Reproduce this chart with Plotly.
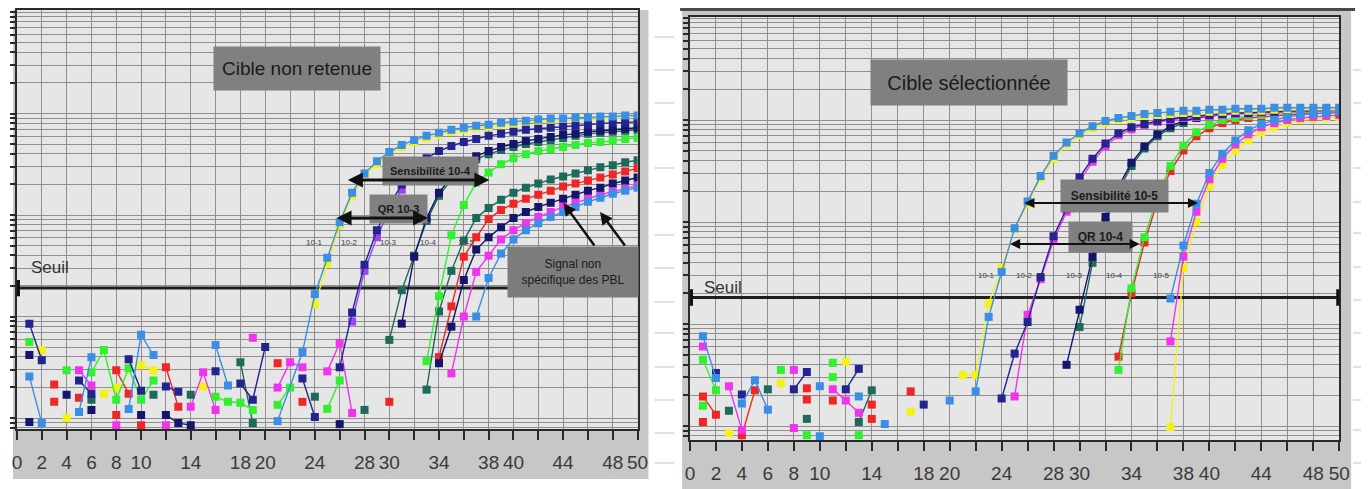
import plotly.graph_objects as go

# page pixels of the reference; the browser adds an 8 px body margin, so the figure is offset
PAGE_W, PAGE_H = 1372, 489
OX, OY = 8, 8
W, H = PAGE_W - OX, PAGE_H - OY
FONT = "Liberation Sans Narrow, Liberation Sans, Arial, sans-serif"

# ---------------- axis ticks ----------------
cycle_ticks = list(range(0, 51, 2))
cycle_ticktext = ["0", "2", "4", "6", "8", "10", "", "14", "", "18", "20", "", "24", "",
                  "28", "30", "", "34", "", "38", "40", "", "44", "", "48", "50"]

# threshold ("Seuil"), log10 of fluorescence
seuil_left_log = 1.28
seuil_right_log = 1.26

# ---------------- data: (cycle, log10 fluorescence); None breaks the line --------------
# LEFT panel : "Cible non retenue"
L_yellow_101 = [(2,0.67),None,(4,0.0),None,(7,0.24),(8,0.30),None,(10,0.52),(11,0.47),None,(15,0.31),None,
                (24,1.12),(25,1.52),(26,1.90),(27,2.19),(28,2.38),(29,2.50),(30,2.60),(31,2.67),(32,2.72),(33,2.76),
                (34,2.79),(35,2.82),(36,2.84),(37,2.86),(38,2.87),(39,2.89),(40,2.90),(41,2.91),(42,2.92),(43,2.93),
                (44,2.93),(45,2.94),(46,2.94),(47,2.95),(48,2.95),(49,2.96),(50,2.96)]
L_blue_101 = [(1,0.41),(2,-0.05),None,(5,0.06),(6,0.60),None,(9,0.09),(10,0.82),(11,0.62),None,(16,0.72),(17,0.32),None,
              (21,-0.03),(23,0.65),(24,1.22),(25,1.58),(26,1.93),(27,2.22),(28,2.41),(29,2.53),(30,2.62),(31,2.69),
              (32,2.74),(33,2.78),(34,2.81),(35,2.84),(36,2.86),(37,2.88),(38,2.89),(39,2.91),(40,2.92),(41,2.93),
              (42,2.94),(43,2.95),(44,2.95),(45,2.96),(46,2.96),(47,2.97),(48,2.97),(49,2.98),(50,2.98)]
L_navy_102 = [(1,0.93),(2,0.57),None,(5,0.37),(6,0.24),None,(9,0.58),(10,0.27),None,(12,0.31),(13,0.26),None,(16,0.46),None,
              (18,0.34),(19,0.18),(20,0.70),None,(23,0.39),(24,0.01),None,(26,0.50),(27,1.04),(28,1.51),(29,1.85),
              (30,2.10),(31,2.30),(32,2.45),(33,2.56),(34,2.63),(35,2.68),(36,2.72),(37,2.75),(38,2.78),(39,2.80),
              (40,2.82),(41,2.84),(42,2.85),(43,2.86),(44,2.87),(45,2.88),(46,2.89),(47,2.90),(48,2.91),(49,2.91),(50,2.92)]
L_purple_102 = [(27,0.95),(28,1.45),(29,1.78),(30,2.05),(31,2.25),(32,2.40)]
L_magenta_102 = [(5,0.47),(6,0.32),None,(8,-0.07),None,(12,-0.07),None,(14,0.11),(15,0.45),(16,0.08),None,(19,0.79),None,
                 (21,0.30),(22,0.55),(23,0.50),None,(25,0.46),(26,0.74),(27,0.05)]
L_navy_103 = [(1,0.62),None,(4,0.23),None,(6,0.08),None,(10,0.03),None,(12,0.03),(13,-0.05),(14,-0.07),None,(26,-0.06),None,
              (31,0.93),(32,1.59),(33,1.97),(34,2.22),(35,2.38),(36,2.50),(37,2.58),(38,2.63),(39,2.67),(40,2.70),
              (41,2.73),(42,2.75),(43,2.77),(44,2.79),(45,2.80),(46,2.82),(47,2.83),(48,2.84),(49,2.85),(50,2.86)]
L_teal_103 = [(6,0.18),None,(11,0.23),None,(14,0.23),None,(18,0.55),(19,-0.05),None,(24,0.21),None,(28,0.08),None,
              (30,0.77),(31,1.26),(32,1.60),(33,1.94),(34,2.19),(35,2.35),(36,2.47),(37,2.55),(38,2.60),(39,2.64),
              (40,2.67),(41,2.70),(42,2.72),(43,2.74),(44,2.76),(45,2.78),(46,2.80),(47,2.81),(48,2.82),(49,2.83),(50,2.84)]
L_red_noise = [(3,0.33),None,(5,0.20),None,(8,0.47),(9,0.24),None,(12,0.50),(13,0.11),None,(21,0.54),None,(23,0.16),None,(30,0.16)]
L_green_104 = [(1,0.75),None,(4,0.47),None,(6,0.45),(7,0.67),(8,0.18),(9,0.49),(10,0.18),(11,0.37),None,(16,0.21),(17,0.16),
               (18,0.15),(19,0.08),None,(21,0.13),(22,0.30),None,(25,0.09),(26,0.37),None,(33,0.56),(34,1.20),(35,1.80),
               (36,2.10),(37,2.32),(38,2.42),(39,2.50),(40,2.56),(41,2.60),(42,2.63),(43,2.65),(44,2.67),(45,2.69),
               (46,2.71),(47,2.72),(48,2.73),(49,2.75),(50,2.76)]
L_teal_pbl = [(33,0.28),(34,1.05),(35,1.45),(36,1.75),(37,1.97),(38,2.07),(39,2.15),(40,2.22),(41,2.27),(42,2.31),
              (43,2.35),(44,2.38),(45,2.41),(46,2.44),(47,2.47),(48,2.49),(49,2.52),(50,2.54)]
L_red_pbl = [(3,0.16),None,(8,0.03),None,(10,-0.07),None,(34,0.60),(35,1.10),(36,1.59),(37,1.78),(38,1.96),(39,2.05),
             (40,2.11),(41,2.16),(42,2.20),(43,2.24),(44,2.28),(45,2.31),(46,2.34),(47,2.37),(48,2.40),(49,2.43),(50,2.46)]
L_navy_pbl = [(1,-0.04),None,(34,0.54),(35,0.90),(36,1.36),(37,1.66),(38,1.78),(39,1.88),(40,1.97),(41,2.03),(42,2.08),
              (43,2.12),(44,2.16),(45,2.20),(46,2.24),(47,2.27),(48,2.31),(49,2.34),(50,2.37)]
L_magenta_pbl = [(35,0.44),(36,1.00),(37,1.44),(38,1.60),(39,1.76),(40,1.85),(41,1.92),(42,1.98),(43,2.03),(44,2.08),
                 (45,2.12),(46,2.16),(47,2.20),(48,2.23),(49,2.26),(50,2.29)]
L_blue_pbl = [(37,1.00),(38,1.38),(39,1.62),(40,1.76),(41,1.85),(42,1.92),(43,1.98),(44,2.03),(45,2.08),(46,2.13),
              (47,2.17),(48,2.21),(49,2.24),(50,2.27)]

# RIGHT panel : "Cible sélectionnée"
R_yellow_101 = [(3,-0.07),None,(7,0.42),None,(12,0.63),None,(17,0.14),None,(21,0.50),(22,0.50),(23,1.20),(24,1.55),
                (25,1.93),(26,2.18),(27,2.43),(28,2.62),(29,2.76),(30,2.85),(31,2.92),(32,2.97),(33,3.00),(34,3.02),
                (35,3.04),(36,3.05),(37,3.06),(38,3.07),(39,3.07),(40,3.08),(41,3.08),(42,3.09),(43,3.09),(44,3.09),
                (45,3.10),(46,3.10),(47,3.10),(48,3.10),(49,3.10),(50,3.10)]
R_blue_101 = [(1,0.88),(2,0.47),None,(4,0.22),(5,0.45),(6,0.16),None,(10,0.39),None,(13,0.29),None,(15,0.02),None,
              (20,0.25),None,(22,0.34),(23,1.07),(24,1.51),(25,1.94),(26,2.20),(27,2.45),(28,2.65),(29,2.78),(30,2.87),
              (31,2.94),(32,2.99),(33,3.02),(34,3.04),(35,3.06),(36,3.07),(37,3.08),(38,3.09),(39,3.09),(40,3.10),
              (41,3.10),(42,3.11),(43,3.11),(44,3.11),(45,3.12),(46,3.12),(47,3.12),(48,3.12),(49,3.12),(50,3.12)]
R_navy_102 = [(2,0.52),None,(4,0.31),None,(8,0.36),(9,0.53),None,(12,0.36),(13,0.56),None,(18,0.21),None,(24,0.27),
              (25,0.71),(26,1.02),(27,1.46),(28,1.86),(29,2.13),(30,2.44),(31,2.62),(32,2.77),(33,2.87),(34,2.93),
              (35,2.96),(36,2.99),(37,3.01),(38,3.03),(39,3.04),(40,3.05),(41,3.06),(42,3.07),(43,3.07),(44,3.08),
              (45,3.08),(46,3.09),(47,3.09),(48,3.09),(49,3.10),(50,3.10)]
R_magenta_102 = [(1,0.78),None,(3,0.39),(4,-0.04),None,(8,0.55),None,(11,0.36),(12,0.25),(13,0.13),None,(25,0.29),
                 (26,1.09),(27,1.44),(28,1.82),(29,2.10),(30,2.40),(31,2.59),(32,2.74),(33,2.85),(34,2.91),(35,2.95),
                 (36,2.98),(37,3.00),(38,3.02),(39,3.03),(40,3.04),(41,3.05),(42,3.06),(43,3.06),(44,3.07),(45,3.07),
                 (46,3.08),(47,3.08),(48,3.08),(49,3.09),(50,3.09)]
R_navy_103 = [(29,0.60),(30,1.14),(31,1.66),(32,2.05),(33,2.35),(34,2.58),(35,2.74),(36,2.86),(37,2.94),(38,2.99),
              (39,3.02),(40,3.04),(41,3.05),(42,3.06),(43,3.07),(44,3.07),(45,3.08),(46,3.08),(47,3.09),(48,3.09),
              (49,3.09),(50,3.10)]
R_teal_103 = [(3,0.15),None,(6,0.36),None,(9,0.07),None,(13,0.04),(14,0.35),None,(30,0.97),(31,1.60),(32,2.00),
              (33,2.31),(34,2.55),(35,2.72),(36,2.84),(37,2.92),(38,2.97)]
R_green_104 = [(1,0.65),(2,0.35),None,(7,0.55),None,(9,-0.09),None,(11,0.62),None,(13,-0.09),None,(33,0.55),(34,1.35),
               (35,1.85),(36,2.25),(37,2.55),(38,2.75),(39,2.88),(40,2.95),(41,3.00),(42,3.02),(43,3.04),(44,3.05),
               (45,3.06),(46,3.07),(47,3.07),(48,3.08),(49,3.08),(50,3.09)]
R_green_noise = [(1,0.20),None,(11,0.48)]
R_red_104 = [(1,0.29),(2,0.11),None,(4,-0.09),(5,0.35),None,(9,0.37),None,(11,0.25),None,(14,0.21),None,(17,0.34),None,
             (33,0.68),(34,1.30),(35,1.80),(36,2.20),(37,2.50),(38,2.70),(39,2.84),(40,2.92),(41,2.97),(42,3.00),
             (43,3.02),(44,3.03),(45,3.04),(46,3.05),(47,3.06),(48,3.06),(49,3.07),(50,3.07)]
R_red_noise = [(1,0.04),None,(9,0.26),None,(14,0.07)]
R_blue_105 = [(10,-0.10),None,(37,1.25),(38,1.77),(39,2.18),(40,2.48),(41,2.67),(42,2.80),(43,2.90),(44,2.96),
              (45,3.00),(46,3.03),(47,3.05),(48,3.06),(49,3.07),(50,3.08)]
R_magenta_105 = [(8,-0.02),None,(37,0.83),(38,1.66),(39,2.10),(40,2.42),(41,2.62),(42,2.76),(43,2.86),(44,2.93),
                 (45,2.97),(46,3.00),(47,3.02),(48,3.03),(49,3.04),(50,3.05)]
R_yellow_105 = [(37,-0.01),(38,1.55),(39,2.00),(40,2.35),(41,2.56),(42,2.70),(43,2.80),(44,2.88),(45,2.93),
                (46,2.97),(47,3.00),(48,3.01),(49,3.02),(50,3.03)]

# ---------------- colours ----------------
BLUE = "#3b8ee6"
NAVY = "#24248f"
DNAVY = "#15156b"
PURPLE = "#9a45f0"
MAGENTA = "#f034ee"
GREEN = "#30f030"
TEAL = "#1d6a5a"
RED = "#ee2626"
YELLOW = "#f4f214"


def px(x):
    return (x - OX) / W


def py(y):
    return 1 - (y - OY) / H


def split(pairs):
    xs, ys = [], []
    for p in pairs:
        if p is None:
            xs.append(None)
            ys.append(None)
        else:
            xs.append(p[0])
            ys.append(10 ** p[1])
    return xs, ys


fig = go.Figure()


def add(pairs, color, xa, ya):
    x, y = split(pairs)
    fig.add_trace(go.Scatter(
        x=x, y=y, mode="lines+markers", xaxis=xa, yaxis=ya, connectgaps=False,
        line=dict(color=color, width=1.4),
        marker=dict(symbol="square", size=8, color=color, line=dict(width=0)),
        showlegend=False, hoverinfo="skip"))


left = [(L_yellow_101, YELLOW), (L_magenta_102, MAGENTA), (L_magenta_pbl, MAGENTA), (L_purple_102, PURPLE),
        (L_red_noise, RED), (L_red_pbl, RED), (L_teal_103, TEAL), (L_teal_pbl, TEAL), (L_green_104, GREEN),
        (L_navy_pbl, DNAVY), (L_navy_103, DNAVY), (L_navy_102, NAVY), (L_blue_pbl, BLUE), (L_blue_101, BLUE)]
for s, c in left:
    add(s, c, "x", "y")

right = [(R_yellow_105, YELLOW), (R_magenta_105, MAGENTA), (R_red_noise, RED), (R_red_104, RED),
         (R_green_noise, GREEN), (R_green_104, GREEN), (R_teal_103, TEAL), (R_navy_103, DNAVY),
         (R_magenta_102, MAGENTA), (R_navy_102, NAVY), (R_yellow_101, YELLOW), (R_blue_105, BLUE),
         (R_blue_101, BLUE)]
for s, c in right:
    add(s, c, "x2", "y2")

ytv = [k * 10 ** n for n in range(-1, 5) for k in range(1, 10)]

GRID = "#8f8f8f"
common_x = dict(range=[0, 50], tickvals=cycle_ticks, ticktext=cycle_ticktext, ticks="outside", ticklen=9,
                tickwidth=2, tickcolor="#2a2a2a", showgrid=True, gridcolor=GRID, gridwidth=1.3,
                showline=True, linecolor="#2a2a2a", linewidth=2, mirror=True, zeroline=False,
                tickfont=dict(family=FONT, size=19, color="#3a3a3a"), ticklabelstandoff=6)
common_y = dict(type="log", tickvals=ytv, showticklabels=False, ticks="outside", ticklen=5, tickwidth=2,
                tickcolor="#2a2a2a", showgrid=True, gridcolor=GRID, gridwidth=1.3, showline=True,
                linecolor="#2a2a2a", linewidth=2, mirror=True, zeroline=False)

fig.update_layout(
    width=W, height=H, margin=dict(l=0, r=0, t=0, b=0),
    paper_bgcolor="white", plot_bgcolor="rgba(0,0,0,0)",
    xaxis=dict(domain=[px(12), px(640)], anchor="y", **common_x),
    yaxis=dict(domain=[py(429), py(10)], anchor="x", range=[-0.108, 4.02], **common_y),
    xaxis2=dict(domain=[px(693), px(1350)], anchor="y2", **common_x),
    yaxis2=dict(domain=[py(440), py(17)], anchor="x2", range=[-0.137, 4.01], **common_y),
)

shapes = []
# frames (grey bands round each plot area)
shapes.append(dict(type="rect", xref="paper", yref="paper", x0=px(8), x1=px(651), y0=py(479), y1=py(10),
                   fillcolor="#c7c7c7", line=dict(width=0), layer="below"))
shapes.append(dict(type="rect", xref="paper", yref="paper", x0=px(685), x1=px(1362), y0=py(489), y1=py(9),
                   fillcolor="#c7c7c7", line=dict(width=0), layer="below"))
shapes.append(dict(type="line", xref="paper", yref="paper", x0=px(683), x1=px(1366), y0=py(9.5), y1=py(9.5),
                   line=dict(color="#4a4a4a", width=3), layer="below"))
# plot areas
for xr, yr in (("x", "y"), ("x2", "y2")):
    shapes.append(dict(type="rect", xref=xr + " domain", yref=yr + " domain", x0=0, x1=1, y0=0, y1=1,
                       fillcolor="#e6e6e6", line=dict(width=0), layer="below"))
# faint page lines between / right of the panels
for yy in (37, 70, 103, 135, 168, 202, 235, 268, 302, 333, 367, 400, 433, 463):
    shapes.append(dict(type="line", xref="paper", yref="paper", x0=px(657), x1=px(677), y0=py(yy), y1=py(yy),
                       line=dict(color="#c9cde0", width=1.2), layer="below"))
for yy in (70, 103, 137, 168, 202, 233, 267, 300, 333, 367, 400, 430, 463):
    shapes.append(dict(type="line", xref="paper", yref="paper", x0=px(1364), x1=px(1372), y0=py(yy), y1=py(yy),
                       line=dict(color="#c9cde0", width=1.2), layer="below"))

# threshold lines with end caps
for xr, yr, thr, caps in (("x", "y", seuil_left_log, (0,)), ("x2", "y2", seuil_right_log, (0, 50))):
    shapes.append(dict(type="line", xref=xr, yref=yr, x0=0, x1=50, y0=10 ** thr, y1=10 ** thr,
                       line=dict(color="#1e1e1e", width=3), layer="between"))
    for cx in caps:
        shapes.append(dict(type="line", xref=xr, yref=yr, x0=cx, x1=cx, y0=10 ** (thr - 0.08),
                           y1=10 ** (thr + 0.08), line=dict(color="#111", width=6), layer="above"))
fig.update_layout(shapes=shapes)

ann = []


def box(text, cx, cy, w, h, size, bg="#808080", bold=False):
    t = "<b>%s</b>" % text if bold else text
    ann.append(dict(text=t, xref="paper", yref="paper", x=px(cx), y=py(cy), xanchor="center", yanchor="middle",
                    showarrow=False, width=w, height=h, bgcolor=bg, borderpad=0, align="center", valign="middle",
                    font=dict(family=FONT, size=size, color="#1b1b1b")))


def label(text, cx, cy, size, color="#333333"):
    ann.append(dict(text=text, xref="paper", yref="paper", x=px(cx), y=py(cy), xanchor="center",
                    yanchor="middle", showarrow=False, font=dict(family=FONT, size=size, color=color)))


def arrow(x_head, y_head, x_tail, y_tail, width, both=True):
    ann.append(dict(text="", xref="paper", yref="paper", x=px(x_head), y=py(y_head), ax=x_tail - x_head,
                    ay=y_tail - y_head, axref="pixel", ayref="pixel", showarrow=True, arrowhead=2,
                    arrowsize=1, arrowwidth=width, arrowcolor="#111111", standoff=0, startstandoff=0,
                    arrowside="end+start" if both else "end", startarrowhead=2, startarrowsize=1))


box("Cible non retenue", 295, 69, 166, 43, 19)
box("Cible sélectionnée", 975, 82, 196, 45, 20)
box("Sensibilité 10-4", 430, 171, 95, 28, 11, bold=True)
box("QR 10-3", 398, 209, 57, 28, 11, bold=True)
box("Signal non<br>spécifique des PBL", 575, 272, 130, 50, 12, bg="#7c7c7c")
box("Sensibilité 10-5", 1123, 196, 107, 32, 12, bold=True)
box("QR 10-4", 1108, 237, 63, 30, 12, bold=True)

label("Seuil", 45, 267, 17)
label("Seuil", 726, 287, 17)
for t, xx in (("10-1", 313), ("10-2", 348), ("10-3", 388), ("10-4", 428), ("10-5", 467)):
    label(t, xx, 242, 8, "#444")
for t, xx in (("10-1", 993), ("10-2", 1031), ("10-3", 1082), ("10-4", 1123), ("10-5", 1170)):
    label(t, xx, 275, 8, "#444")

arrow(490, 180, 347, 180, 3)
arrow(428, 218, 335, 218, 3)
arrow(1207, 203, 1032, 203, 2)
arrow(1148, 244, 1017, 244, 2)
arrow(565, 203, 597, 247, 2.5, both=False)
arrow(602, 212, 628, 247, 2.5, both=False)

fig.update_layout(annotations=ann)
fig.write_html("out.html")
